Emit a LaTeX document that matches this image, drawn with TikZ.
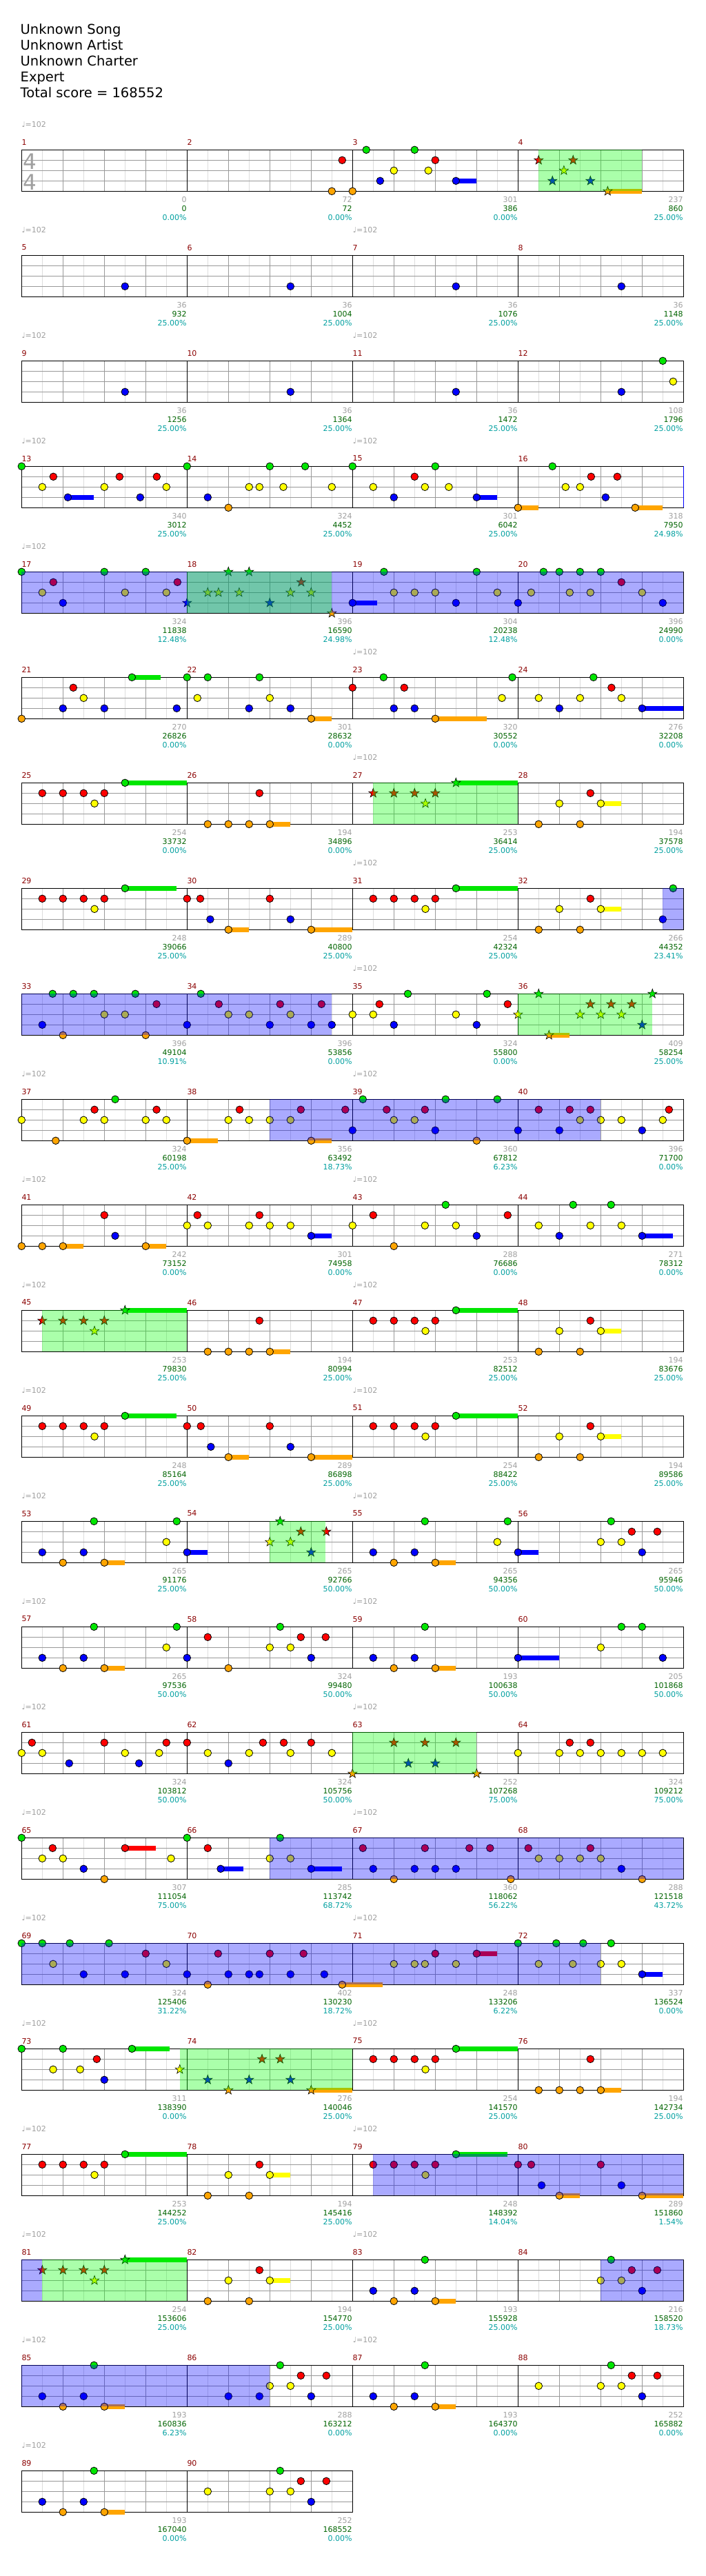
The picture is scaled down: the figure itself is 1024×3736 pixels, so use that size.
\documentclass[tikz,border=0pt]{standalone}
\usepackage{fontspec}
\setmainfont{DejaVu Sans}
\usetikzlibrary{shapes.geometric}
\definecolor{lnG}{RGB}{0,230,0}
\definecolor{lnR}{RGB}{255,0,0}
\definecolor{lnY}{RGB}{255,255,0}
\definecolor{lnB}{RGB}{0,0,255}
\definecolor{lnO}{RGB}{255,165,0}
\definecolor{ovG}{RGB}{0,255,0}
\definecolor{ovB}{RGB}{0,0,255}
\definecolor{gridlt}{RGB}{221,221,221}
\definecolor{griddk}{RGB}{153,153,153}
\definecolor{txgray}{RGB}{160,160,160}
\definecolor{txgreen}{RGB}{0,100,0}
\definecolor{txteal}{RGB}{0,160,160}
\definecolor{mnum}{RGB}{139,0,0}
\def\laneG{0}\def\laneR{1}\def\laneY{2}\def\laneB{3}\def\laneO{4}
\tikzset{
  txt/.style={inner sep=0pt,font=\fontsize{11}{13}\selectfont},
  starnote/.style={star,star points=5,star point ratio=2.5,minimum size=14pt,inner sep=0pt,draw=black,line width=0.6pt},
  notecirc/.style={draw=black,line width=0.8pt}
}
\newcommand\mpos[1]{\pgfmathtruncatemacro\MR{(#1-1)/4}\pgfmathtruncatemacro\MC{#1-1-4*\MR}\pgfmathsetmacro\MX{31.3+240*\MC}\pgfmathsetmacro\MY{217.3+153*\MR}}
\newcommand\M[2]{\mpos{#1}#2}
\newcommand\GobA[1]{}\newcommand\GobB[2]{}\newcommand\GobC[3]{}
\newcommand\NtOn[2]{\path[notecirc,fill=ln#2] ({\MX+15*#1},{\MY+15*\csname lane#2\endcsname}) circle[radius=5.3];}
\newcommand\StOn[2]{\node[starnote,fill=ln#2] at ({\MX+15*#1},{\MY+15*\csname lane#2\endcsname}) {};}
\newcommand\SuOn[3]{\fill[ln#3] ({\MX+15*#1},{\MY+15*\csname lane#3\endcsname-3.3}) rectangle ({\MX+15*#2},{\MY+15*\csname lane#3\endcsname+3.3});}
\newcommand\OvOn[3]{\fill[#1,fill opacity=0.333] ({\MX+15*#2},\MY) rectangle ({\MX+15*#3},{\MY+60});}
\newcommand\BlOn[1]{\draw[blue,line width=1pt] ({\MX+15*#1},\MY) -- ++(0,60);}
\newcommand\TxOn[3]{\node[txt,text=txgray,anchor=east] at ({\MX+239.5},{\MY+71.7}) {#1};
  \node[txt,text=txgreen,anchor=east] at ({\MX+239.5},{\MY+84.7}) {#2};
  \node[txt,text=txteal,anchor=east] at ({\MX+239.5},{\MY+97.7}) {#3};}
\newcommand\Staff[2]{\pgfmathsetmacro\SY{217.3+153*#1}\pgfmathsetmacro\SW{240*#2}%
  \pgfmathtruncatemacro\NE{8*#2-1}\pgfmathtruncatemacro\NQ{8*#2-2}\pgfmathtruncatemacro\NM{#2-1}%
  \foreach \k in {1,3,...,\NE} \draw[gridlt,line width=1pt] ({31.3+30*\k},\SY) -- ++(0,60);
  \foreach \k in {2,4,...,\NQ} \draw[griddk,line width=1pt] ({31.3+30*\k},\SY) -- ++(0,60);
  \foreach \j in {1,2,3} \draw[griddk,line width=1pt] (31.3,{\SY+15*\j}) -- ++(\SW,0);
  \foreach \k in {1,...,\NM} \draw[black,line width=1pt] ({31.3+240*\k},\SY) -- ++(0,60);
  \draw[black,line width=1pt] (31.3,\SY) rectangle ({31.3+\SW},{\SY+60});}
\newcommand\Tp[2]{\node[txt,text=txgray,anchor=west] at (#1,{217.3+153*#2-37}) {♩=102};}
\newcommand\Data{%
\M{1}{\Tx{0}{0}{0.00\%}}
\M{2}{\Nt{14}{O}\Nt{15}{R}\Tx{72}{72}{0.00\%}}
\M{3}{\Nt{0}{O}\Nt{1.33}{G}\Nt{2.67}{B}\Nt{4}{Y}\Nt{6}{G}\Nt{7.33}{Y}\Nt{8}{R}\Su{10}{12}{B}\Nt{10}{B}\Tx{301}{386}{0.00\%}}
\M{4}{\Ov{ovG}{2}{12}\St{2}{R}\St{3.33}{B}\St{4.44}{Y}\St{5.33}{R}\St{7}{B}\Su{8.67}{12}{O}\St{8.67}{O}\Tx{237}{860}{25.00\%}}
\M{5}{\Nt{10}{B}\Tx{36}{932}{25.00\%}}
\M{6}{\Nt{10}{B}\Tx{36}{1004}{25.00\%}}
\M{7}{\Nt{10}{B}\Tx{36}{1076}{25.00\%}}
\M{8}{\Nt{10}{B}\Tx{36}{1148}{25.00\%}}
\M{9}{\Nt{10}{B}\Tx{36}{1256}{25.00\%}}
\M{10}{\Nt{10}{B}\Tx{36}{1364}{25.00\%}}
\M{11}{\Nt{10}{B}\Tx{36}{1472}{25.00\%}}
\M{12}{\Nt{10}{B}\Nt{14}{G}\Nt{15}{Y}\Tx{108}{1796}{25.00\%}}
\M{13}{\Nt{0}{G}\Nt{2}{Y}\Nt{3.07}{R}\Su{4.47}{7}{B}\Nt{4.47}{B}\Nt{8}{Y}\Nt{9.47}{R}\Nt{11.47}{B}\Nt{13.07}{R}\Nt{14}{Y}\Tx{340}{3012}{25.00\%}}
\M{14}{\Nt{0}{G}\Nt{2}{B}\Nt{4}{O}\Nt{6}{Y}\Nt{7}{Y}\Nt{8}{G}\Nt{9.31}{Y}\Nt{11.42}{G}\Nt{14}{Y}\Tx{324}{4452}{25.00\%}}
\M{15}{\Nt{0}{G}\Nt{2}{Y}\Nt{4}{B}\Nt{6}{R}\Nt{7}{Y}\Nt{8}{G}\Nt{9.31}{Y}\Su{12}{14}{B}\Nt{12}{B}\Tx{301}{6042}{25.00\%}}
\M{16}{\Su{0}{2}{O}\Nt{0}{O}\Nt{3.33}{G}\Nt{4.6}{Y}\Nt{6}{Y}\Nt{7.07}{R}\Nt{8.47}{B}\Nt{9.6}{R}\Su{11.33}{14}{O}\Nt{11.33}{O}\Tx{318}{7950}{24.98\%}\Bl{16}}
\M{17}{\Ov{ovB}{0}{64}\Nt{0}{G}\Nt{2}{Y}\Nt{3.07}{R}\Nt{4}{B}\Nt{8}{G}\Nt{10}{Y}\Nt{12}{G}\Nt{14}{Y}\Nt{15.07}{R}\Tx{324}{11838}{12.48\%}}
\M{18}{\Ov{ovG}{0}{14}\St{0}{B}\St{2}{Y}\St{3.04}{Y}\St{4}{G}\St{5.04}{Y}\St{6}{G}\St{8}{B}\St{10}{Y}\St{11.04}{R}\St{12}{Y}\St{14}{O}\Tx{396}{16590}{24.98\%}}
\M{19}{\Su{0}{2.4}{B}\Nt{0}{B}\Nt{3.04}{G}\Nt{4}{Y}\Nt{6}{Y}\Nt{8}{Y}\Nt{10}{B}\Nt{12}{G}\Nt{14}{Y}\Tx{304}{20238}{12.48\%}}
\M{20}{\Nt{0}{B}\Nt{1.27}{Y}\Nt{2.47}{G}\Nt{4}{G}\Nt{5}{Y}\Nt{6}{G}\Nt{7}{Y}\Nt{8}{G}\Nt{10}{R}\Nt{12}{Y}\Nt{14}{B}\Tx{396}{24990}{0.00\%}}
\M{21}{\Nt{0}{O}\Nt{4}{B}\Nt{5}{R}\Nt{6}{Y}\Nt{8}{B}\Su{10.67}{13.45}{G}\Nt{10.67}{G}\Nt{15}{B}\Tx{270}{26826}{0.00\%}}
\M{22}{\Nt{0}{G}\Nt{1}{Y}\Nt{2}{G}\Nt{6}{B}\Nt{7}{G}\Nt{8}{Y}\Nt{10}{B}\Su{12}{14}{O}\Nt{12}{O}\Tx{301}{28632}{0.00\%}}
\M{23}{\Nt{0}{R}\Nt{3}{G}\Nt{4}{B}\Nt{5}{R}\Nt{6}{B}\Su{8}{13}{O}\Nt{8}{O}\Nt{14.45}{Y}\Nt{15.45}{G}\Tx{320}{30552}{0.00\%}}
\M{24}{\Nt{2}{Y}\Nt{4}{B}\Nt{6}{Y}\Nt{7.3}{G}\Nt{9.04}{R}\Nt{10}{Y}\Su{12}{16}{B}\Nt{12}{B}\Tx{276}{32208}{0.00\%}}
\M{25}{\Nt{2}{R}\Nt{4}{R}\Nt{6}{R}\Nt{7.05}{Y}\Nt{8}{R}\Su{10}{16}{G}\Nt{10}{G}\Tx{254}{33732}{0.00\%}}
\M{26}{\Nt{2}{O}\Nt{4}{O}\Nt{6}{O}\Nt{7}{R}\Su{8}{10}{O}\Nt{8}{O}\Tx{194}{34896}{0.00\%}}
\M{27}{\Ov{ovG}{2}{16}\St{2}{R}\St{4}{R}\St{6}{R}\St{7.05}{Y}\St{8}{R}\Su{10}{16}{G}\St{10}{G}\Tx{253}{36414}{25.00\%}}
\M{28}{\Nt{2}{O}\Nt{4}{Y}\Nt{6}{O}\Nt{7}{R}\Su{8}{10}{Y}\Nt{8}{Y}\Tx{194}{37578}{25.00\%}}
\M{29}{\Nt{2}{R}\Nt{4}{R}\Nt{6}{R}\Nt{7.05}{Y}\Nt{8}{R}\Su{10}{15}{G}\Nt{10}{G}\Tx{248}{39066}{25.00\%}}
\M{30}{\Nt{0}{R}\Nt{1.28}{R}\Nt{2.24}{B}\Su{4}{6}{O}\Nt{4}{O}\Nt{8}{R}\Nt{10}{B}\Su{12}{16}{O}\Nt{12}{O}\Tx{289}{40800}{25.00\%}}
\M{31}{\Nt{2}{R}\Nt{4}{R}\Nt{6}{R}\Nt{7.05}{Y}\Nt{8}{R}\Su{10}{16}{G}\Nt{10}{G}\Tx{254}{42324}{25.00\%}}
\M{32}{\Nt{2}{O}\Nt{4}{Y}\Nt{6}{O}\Nt{7}{R}\Su{8}{10}{Y}\Nt{8}{Y}\Ov{ovB}{14}{16}\Nt{14}{B}\Nt{15}{G}\Tx{266}{44352}{23.41\%}}
\M{33}{\Ov{ovB}{0}{30}\Nt{2}{B}\Nt{3}{G}\Nt{4}{O}\Nt{5}{G}\Nt{7}{G}\Nt{8}{Y}\Nt{10}{Y}\Nt{11}{G}\Nt{12}{O}\Nt{13.05}{R}\Tx{396}{49104}{10.91\%}}
\M{34}{\Nt{0}{B}\Nt{1.33}{G}\Nt{3.07}{R}\Nt{4}{Y}\Nt{6}{Y}\Nt{8}{B}\Nt{9}{R}\Nt{10}{Y}\Nt{12}{B}\Nt{13}{R}\Nt{14}{B}\Tx{396}{53856}{0.00\%}}
\M{35}{\Nt{0}{Y}\Nt{2}{Y}\Nt{2.6}{R}\Nt{4}{B}\Nt{5.35}{G}\Nt{10}{Y}\Nt{12}{B}\Nt{13}{G}\Nt{15}{R}\Tx{324}{55800}{0.00\%}}
\M{36}{\Ov{ovG}{0}{13}\St{0}{Y}\St{2}{G}\Su{3}{5}{O}\St{3}{O}\St{6}{Y}\St{7}{R}\St{8}{Y}\St{9}{R}\St{10}{Y}\St{11}{R}\St{12}{B}\St{13}{G}\Tx{409}{58254}{25.00\%}}
\M{37}{\Nt{0}{Y}\Nt{3.3}{O}\Nt{6}{Y}\Nt{7.05}{R}\Nt{8}{Y}\Nt{9.05}{G}\Nt{12}{Y}\Nt{13.05}{R}\Nt{14}{Y}\Tx{324}{60198}{25.00\%}}
\M{38}{\Ov{ovB}{8}{40}\Su{0}{3}{O}\Nt{0}{O}\Nt{4}{Y}\Nt{5.08}{R}\Nt{6}{Y}\Nt{8}{Y}\Nt{10}{Y}\Nt{11}{R}\Su{12}{14}{O}\Nt{12}{O}\Nt{15.3}{R}\Tx{356}{63492}{18.73\%}}
\M{39}{\Nt{0}{B}\Nt{1}{G}\Nt{3.3}{R}\Nt{4}{Y}\Nt{6}{Y}\Nt{7}{R}\Nt{8}{B}\Nt{9}{G}\Nt{12}{O}\Nt{14}{G}\Tx{360}{67812}{6.23\%}}
\M{40}{\Nt{0}{B}\Nt{2}{R}\Nt{4}{B}\Nt{5}{R}\Nt{6}{Y}\Nt{7}{R}\Nt{8}{Y}\Nt{10}{Y}\Nt{12}{B}\Nt{14}{Y}\Nt{14.6}{R}\Tx{396}{71700}{0.00\%}}
\M{41}{\Nt{0}{O}\Nt{2}{O}\Su{4}{6}{O}\Nt{4}{O}\Nt{8}{R}\Nt{9.05}{B}\Su{12}{14}{O}\Nt{12}{O}\Tx{242}{73152}{0.00\%}}
\M{42}{\Nt{0}{Y}\Nt{1}{R}\Nt{2}{Y}\Nt{6}{Y}\Nt{7}{R}\Nt{8}{Y}\Nt{10}{Y}\Su{12}{14}{B}\Nt{12}{B}\Tx{301}{74958}{0.00\%}}
\M{43}{\Nt{0}{Y}\Nt{2}{R}\Nt{4}{O}\Nt{7}{Y}\Nt{9}{G}\Nt{10}{Y}\Nt{12}{B}\Nt{15}{R}\Tx{288}{76686}{0.00\%}}
\M{44}{\Nt{2}{Y}\Nt{4}{B}\Nt{5.33}{G}\Nt{7}{Y}\Nt{9}{G}\Nt{10}{Y}\Su{12}{15}{B}\Nt{12}{B}\Tx{271}{78312}{0.00\%}}
\M{45}{\Ov{ovG}{2}{16}\St{2}{R}\St{4}{R}\St{6}{R}\St{7.05}{Y}\St{8}{R}\Su{10}{16}{G}\St{10}{G}\Tx{253}{79830}{25.00\%}}
\M{46}{\Nt{2}{O}\Nt{4}{O}\Nt{6}{O}\Nt{7}{R}\Su{8}{10}{O}\Nt{8}{O}\Tx{194}{80994}{25.00\%}}
\M{47}{\Nt{2}{R}\Nt{4}{R}\Nt{6}{R}\Nt{7.05}{Y}\Nt{8}{R}\Su{10}{16}{G}\Nt{10}{G}\Tx{253}{82512}{25.00\%}}
\M{48}{\Nt{2}{O}\Nt{4}{Y}\Nt{6}{O}\Nt{7}{R}\Su{8}{10}{Y}\Nt{8}{Y}\Tx{194}{83676}{25.00\%}}
\M{49}{\Nt{2}{R}\Nt{4}{R}\Nt{6}{R}\Nt{7.05}{Y}\Nt{8}{R}\Su{10}{15}{G}\Nt{10}{G}\Tx{248}{85164}{25.00\%}}
\M{50}{\Nt{0}{R}\Nt{1.33}{R}\Nt{2.3}{B}\Su{4}{6}{O}\Nt{4}{O}\Nt{8}{R}\Nt{10}{B}\Su{12}{16}{O}\Nt{12}{O}\Tx{289}{86898}{25.00\%}}
\M{51}{\Nt{2}{R}\Nt{4}{R}\Nt{6}{R}\Nt{7.05}{Y}\Nt{8}{R}\Su{10}{16}{G}\Nt{10}{G}\Tx{254}{88422}{25.00\%}}
\M{52}{\Nt{2}{O}\Nt{4}{Y}\Nt{6}{O}\Nt{7}{R}\Su{8}{10}{Y}\Nt{8}{Y}\Tx{194}{89586}{25.00\%}}
\M{53}{\Nt{2}{B}\Nt{4}{O}\Nt{6}{B}\Nt{7}{G}\Su{8}{10}{O}\Nt{8}{O}\Nt{14}{Y}\Nt{15}{G}\Tx{265}{91176}{25.00\%}}
\M{54}{\Su{0}{2}{B}\Nt{0}{B}\Ov{ovG}{8}{13.4}\St{8}{Y}\St{9}{G}\St{10}{Y}\St{11}{R}\St{12}{B}\St{13.47}{R}\Tx{265}{92766}{50.00\%}}
\M{55}{\Nt{2}{B}\Nt{4}{O}\Nt{6}{B}\Nt{7}{G}\Su{8}{10}{O}\Nt{8}{O}\Nt{14}{Y}\Nt{15}{G}\Tx{265}{94356}{50.00\%}}
\M{56}{\Su{0}{2}{B}\Nt{0}{B}\Nt{8}{Y}\Nt{9}{G}\Nt{10}{Y}\Nt{11}{R}\Nt{12}{B}\Nt{13.47}{R}\Tx{265}{95946}{50.00\%}}
\M{57}{\Nt{2}{B}\Nt{4}{O}\Nt{6}{B}\Nt{7}{G}\Su{8}{10}{O}\Nt{8}{O}\Nt{14}{Y}\Nt{15}{G}\Tx{265}{97536}{50.00\%}}
\M{58}{\Nt{0}{B}\Nt{2}{R}\Nt{4}{O}\Nt{8}{Y}\Nt{9}{G}\Nt{10}{Y}\Nt{11}{R}\Nt{12}{B}\Nt{13.4}{R}\Tx{324}{99480}{50.00\%}}
\M{59}{\Nt{2}{B}\Nt{4}{O}\Nt{6}{B}\Nt{7}{G}\Su{8}{10}{O}\Nt{8}{O}\Tx{193}{100638}{50.00\%}}
\M{60}{\Su{0}{4}{B}\Nt{0}{B}\Nt{8}{Y}\Nt{10}{G}\Nt{12}{G}\Nt{14}{B}\Tx{205}{101868}{50.00\%}}
\M{61}{\Nt{0}{Y}\Nt{1}{R}\Nt{2}{Y}\Nt{4.6}{B}\Nt{8}{R}\Nt{10}{Y}\Nt{11.36}{B}\Nt{13.3}{Y}\Nt{14}{R}\Tx{324}{103812}{50.00\%}}
\M{62}{\Nt{0}{R}\Nt{2}{Y}\Nt{4}{B}\Nt{6}{Y}\Nt{7.34}{R}\Nt{9.35}{R}\Nt{10}{Y}\Nt{12}{R}\Nt{14}{Y}\Tx{324}{105756}{50.00\%}}
\M{63}{\Ov{ovG}{0}{12}\St{0}{O}\St{4}{R}\St{5.4}{B}\St{7}{R}\St{8}{B}\St{10}{R}\St{12}{O}\Tx{252}{107268}{75.00\%}}
\M{64}{\Nt{0}{Y}\Nt{4}{Y}\Nt{5}{R}\Nt{6}{Y}\Nt{7}{R}\Nt{8}{Y}\Nt{10}{Y}\Nt{12}{Y}\Nt{14}{Y}\Tx{324}{109212}{75.00\%}}
\M{65}{\Nt{0}{G}\Nt{2}{Y}\Nt{3}{R}\Nt{4}{Y}\Nt{6}{B}\Nt{8}{O}\Su{10}{13}{R}\Nt{10}{R}\Nt{14.45}{Y}\Tx{307}{111054}{75.00\%}}
\M{66}{\Nt{0}{G}\Nt{2}{R}\Su{3.25}{5.47}{B}\Nt{3.25}{B}\Ov{ovB}{8}{48}\Nt{8}{Y}\Nt{9}{G}\Nt{10}{Y}\Su{12}{15}{B}\Nt{12}{B}\Tx{285}{113742}{68.72\%}}
\M{67}{\Nt{1}{R}\Nt{2}{B}\Nt{4}{O}\Nt{6}{B}\Nt{7}{R}\Nt{8}{B}\Nt{10}{B}\Nt{11.3}{R}\Nt{13.3}{R}\Nt{15.3}{O}\Tx{360}{118062}{56.22\%}}
\M{68}{\Nt{1}{R}\Nt{2}{Y}\Nt{4}{Y}\Nt{6}{Y}\Nt{7}{R}\Nt{8}{Y}\Nt{10}{B}\Nt{12}{O}\Tx{288}{121518}{43.72\%}}
\M{69}{\Ov{ovB}{0}{56}\Nt{0}{G}\Nt{2}{G}\Nt{3.05}{Y}\Nt{4.66}{G}\Nt{6}{B}\Nt{8.45}{G}\Nt{10}{B}\Nt{12}{R}\Nt{14}{Y}\Tx{324}{125406}{31.22\%}}
\M{70}{\Nt{0}{B}\Nt{2}{O}\Nt{3}{R}\Nt{4}{B}\Nt{6}{B}\Nt{7}{B}\Nt{8}{R}\Nt{10}{B}\Nt{11.26}{R}\Nt{13.27}{B}\Su{15}{18.9}{O}\Nt{15}{O}\Tx{402}{130230}{18.72\%}}
\M{71}{\Nt{4}{Y}\Nt{6}{Y}\Nt{7}{Y}\Nt{8}{R}\Nt{10}{Y}\Su{12}{14}{R}\Nt{12}{R}\Tx{248}{133206}{6.22\%}}
\M{72}{\Nt{0}{G}\Nt{2}{Y}\Nt{3.7}{G}\Nt{5.3}{Y}\Nt{6.3}{G}\Nt{8}{Y}\Nt{9}{G}\Nt{10}{Y}\Su{12}{14}{B}\Nt{12}{B}\Tx{337}{136524}{0.00\%}}
\M{73}{\Nt{0}{G}\Nt{3.05}{Y}\Nt{4}{G}\Nt{5.66}{Y}\Nt{7.27}{R}\Nt{8}{B}\Su{10.67}{14.3}{G}\Nt{10.67}{G}\Ov{ovG}{15.3}{32}\St{15.3}{Y}\Tx{311}{138390}{0.00\%}}
\M{74}{\St{2}{B}\St{4}{O}\St{6}{B}\St{7.25}{R}\St{9}{R}\St{10}{B}\Su{12}{16}{O}\St{12}{O}\Tx{276}{140046}{25.00\%}}
\M{75}{\Nt{2}{R}\Nt{4}{R}\Nt{6}{R}\Nt{7.05}{Y}\Nt{8}{R}\Su{10}{16}{G}\Nt{10}{G}\Tx{254}{141570}{25.00\%}}
\M{76}{\Nt{2}{O}\Nt{4}{O}\Nt{6}{O}\Nt{7}{R}\Su{8}{10}{O}\Nt{8}{O}\Tx{194}{142734}{25.00\%}}
\M{77}{\Nt{2}{R}\Nt{4}{R}\Nt{6}{R}\Nt{7.05}{Y}\Nt{8}{R}\Su{10}{16}{G}\Nt{10}{G}\Tx{253}{144252}{25.00\%}}
\M{78}{\Nt{2}{O}\Nt{4}{Y}\Nt{6}{O}\Nt{7}{R}\Su{8}{10}{Y}\Nt{8}{Y}\Tx{194}{145416}{25.00\%}}
\M{79}{\Ov{ovB}{2}{32}\Nt{2}{R}\Nt{4}{R}\Nt{6}{R}\Nt{7.05}{Y}\Nt{8}{R}\Su{10}{15}{G}\Nt{10}{G}\Tx{248}{148392}{14.04\%}}
\M{80}{\Nt{0}{R}\Nt{1.28}{R}\Nt{2.28}{B}\Su{4}{6}{O}\Nt{4}{O}\Nt{8}{R}\Nt{10}{B}\Su{12}{16}{O}\Nt{12}{O}\Tx{289}{151860}{1.54\%}}
\M{81}{\Ov{ovB}{0}{2}\Ov{ovG}{2}{16}\St{2}{R}\St{4}{R}\St{6}{R}\St{7.05}{Y}\St{8}{R}\Su{10}{16}{G}\St{10}{G}\Tx{254}{153606}{25.00\%}}
\M{82}{\Nt{2}{O}\Nt{4}{Y}\Nt{6}{O}\Nt{7}{R}\Su{8}{10}{Y}\Nt{8}{Y}\Tx{194}{154770}{25.00\%}}
\M{83}{\Nt{2}{B}\Nt{4}{O}\Nt{6}{B}\Nt{7}{G}\Su{8}{10}{O}\Nt{8}{O}\Tx{193}{155928}{25.00\%}}
\M{84}{\Ov{ovB}{8}{16}\Nt{8}{Y}\Nt{9}{G}\Nt{10}{Y}\Nt{11}{R}\Nt{12}{B}\Nt{13.47}{R}\Tx{216}{158520}{18.73\%}}
\M{85}{\Ov{ovB}{0}{24}\Nt{2}{B}\Nt{4}{O}\Nt{6}{B}\Nt{7}{G}\Su{8}{10}{O}\Nt{8}{O}\Tx{193}{160836}{6.23\%}}
\M{86}{\Nt{4}{B}\Nt{7}{B}\Nt{8}{Y}\Nt{9}{G}\Nt{10}{Y}\Nt{11}{R}\Nt{12}{B}\Nt{13.47}{R}\Tx{288}{163212}{0.00\%}}
\M{87}{\Nt{2}{B}\Nt{4}{O}\Nt{6}{B}\Nt{7}{G}\Su{8}{10}{O}\Nt{8}{O}\Tx{193}{164370}{0.00\%}}
\M{88}{\Nt{2}{Y}\Nt{8}{Y}\Nt{9}{G}\Nt{10}{Y}\Nt{11}{R}\Nt{12}{B}\Nt{13.47}{R}\Tx{252}{165882}{0.00\%}}
\M{89}{\Nt{2}{B}\Nt{4}{O}\Nt{6}{B}\Nt{7}{G}\Su{8}{10}{O}\Nt{8}{O}\Tx{193}{167040}{0.00\%}}
\M{90}{\Nt{2}{Y}\Nt{8}{Y}\Nt{9}{G}\Nt{10}{Y}\Nt{11}{R}\Nt{12}{B}\Nt{13.47}{R}\Tx{252}{168552}{0.00\%}}
}
\begin{document}
\begin{tikzpicture}[x=1pt,y=-1pt]
\useasboundingbox[fill=white] (0,0) rectangle (1024,3736);
% header
\foreach \t [count=\i from 0] in {Unknown Song,Unknown Artist,Unknown Charter,Expert,Total score = 168552}
  \node[anchor=base west,inner sep=0pt,font=\fontsize{19.5}{23}\selectfont] (h\i) at (29.5,{49.3+23*\i}) {\t};
% staffs
\foreach \r in {0,...,21} {\Staff{\r}{4}}
\Staff{22}{2}
% time signature
\node[anchor=base west,inner sep=0pt,text=txgray,font=\fontsize{31}{31}\selectfont] (ts1) at (33.5,245) {4};
\node[anchor=base west,inner sep=0pt,text=txgray,font=\fontsize{31}{31}\selectfont] (ts2) at (33.5,275) {4};
% measure numbers
\foreach \m in {1,...,90} {\mpos{\m}\node[txt,text=mnum,anchor=west] (mn\m) at (\MX,\MY-11.3) {\m};}
% tempo marks
\foreach \r in {0,1,2,3,4,9,10,11,12,13,14,15,16,17,18,19,20,21,22} {\Tp{31.3}{\r}}
\foreach \r in {1,2,3,5,6,7,8,9,10,11,12,13,14,15,16,17,18,19,20,21} {\Tp{511.7}{\r}}
% pass 1: sustains
\let\Nt\GobB\let\St\GobB\let\Su\SuOn\let\Ov\GobC\let\Bl\GobA\let\Tx\GobC
\Data
% pass 2: notes and stars
\let\Nt\NtOn\let\St\StOn\let\Su\GobC
\Data
% pass 3: overlays
\let\Nt\GobB\let\St\GobB\let\Ov\OvOn\let\Bl\BlOn
\Data
% pass 4: texts
\let\Ov\GobC\let\Bl\GobA\let\Tx\TxOn
\Data
\end{tikzpicture}
\end{document}
